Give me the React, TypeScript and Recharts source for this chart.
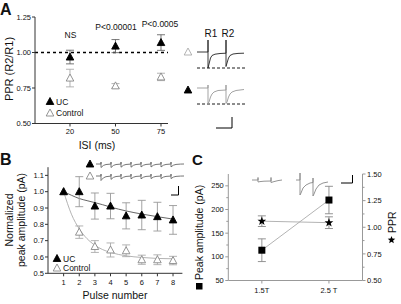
import React from "react";
import {
  ComposedChart,
  LineChart,
  Line,
  Scatter,
  XAxis,
  YAxis,
  ErrorBar,
  ReferenceLine,
} from "recharts";

const FONT = '"Liberation Sans", Arial, Helvetica, sans-serif';
const INK = "#111";
const AXIS = "#333";
const AXIS_C = "#999";
const TICK = { fontSize: 7.5, fill: INK, fontFamily: FONT };

// ---- Panel A: paired-pulse ratio vs inter-stimulus interval
const ISI_LABELS = ["20", "50", "75"];
const A_UC = [0.968, 1.045, 1.07];
const A_UC_ERR = [0.048, 0.046, 0.055];
const A_CTL = [0.82, 0.765, 0.828];
const A_CTL_ERR = [0.062, 0.016, 0.026];
const A_Y_TICKS = [0.5, 0.75, 1.0, 1.25];
const A_SIG = ["NS", "P<0.00001", "P<0.0005"];

// example sweeps (ms, arbitrary pA units); control on top, UC below
const A_TRACE_CTL: [number, number][] = [
  [0, 0], [11, 0], [11, 12], [11, -16], [12, -12], [13.5, -6], [15, -3.5], [18, -2.2], [23, -1.5],
  [29, -1.2], [29, 12], [29, -14.5], [30, -11], [31.5, -6], [33, -3.5], [36, -2], [41, -1.4], [47, -1.2],
];
const A_TRACE_UC: [number, number][] = [
  [0, 0], [11, 0], [11, 3], [11, -15.5], [12, -14], [13.5, -9], [15, -6], [17, -4], [21, -2.5],
  [29, -2], [29, 3], [29, -15.5], [30, -14], [31.5, -9], [33, -6], [35, -4], [39, -2.5], [47, -1.5],
];

// ---- Panel B: normalized amplitude in a train
const PULSES = [1, 2, 3, 4, 5, 6, 7, 8];
const B_UC = [1.0, 1.0, 0.912, 0.912, 0.852, 0.857, 0.847, 0.827];
const B_UC_ERR = [0, 0.092, 0.08, 0.078, 0.08, 0.09, 0.088, 0.088];
const B_CTL = [1.0, 0.752, 0.664, 0.643, 0.638, 0.583, 0.583, 0.578];
const B_CTL_ERR = [0, 0.038, 0.036, 0.043, 0.036, 0.028, 0.03, 0.026];
const B_FIT_X = [1, 1.5, 2, 2.5, 3, 3.5, 4, 5, 6, 7, 8];
const B_FIT_UC = [1.0, 0.978, 0.958, 0.945, 0.933, 0.92, 0.906, 0.882, 0.863, 0.847, 0.832];
const B_FIT_CTL = [1.0, 0.862, 0.772, 0.712, 0.672, 0.645, 0.628, 0.607, 0.597, 0.591, 0.589];
const B_Y_TICKS = [0.5, 0.6, 0.7, 0.8, 0.9, 1.0, 1.1];
const B_TRAIN_T = [5, 15, 25, 35, 45, 55, 65, 75];
const EPSC_DT = [0, 1, 2.5, 5, 9.5];
const EPSC_REL = [-1, -0.75, -0.4, -0.15, -0.03];

// ---- Panel C: amplitude and PPR vs stimulus strength
const STIM = ["1.5T", "2.5 T"];
const C_AMP = [114, 220];
const C_AMP_ERR = [24, 29];
const C_PPR = [1.057, 1.043];
const C_PPR_ERR = [0.05, 0.055];
const C_LEFT_TICKS = [50, 100, 150, 200, 250];
const C_LEFT_MINOR = [75, 125, 175, 225];
const C_RIGHT_TICKS = [0.5, 0.75, 1.0, 1.25, 1.5];
const C_RIGHT_MINOR = [0.625, 0.875, 1.125, 1.375];
const C_TRACE_LOW: [number, number][] = [
  [0, 0], [6, 0], [6, 2.5], [6, -2], [8, -1.6], [12, -1.2], [19, -1], [19, 2.5], [19, -2.5],
  [22, -1.6], [26, -0.6], [30, 0],
];
const C_TRACE_HIGH: [number, number][] = [
  [44, 0], [48, 0], [48, 7], [48, -15], [49, -13], [51, -8], [54, -5], [58, -3], [61, -2.5],
  [61, 2], [61, -16], [62, -14], [64, -9], [67, -5], [71, -3], [76, -2],
];

const pts = (ys: number[], errs: number[], xs?: number[]) =>
  ys.map((y, i) => ({ x: xs ? xs[i] : i + 1, y, err: errs[i] ?? 0 }));
const pairs = (arr: [number, number][]) => arr.map(([t, y]) => ({ t, y }));

function train(amps: number[], depth: number, art: number) {
  const out = [{ t: 0, y: 0 }];
  B_TRAIN_T.forEach((t0, i) => {
    out.push({ t: t0, y: 0 }, { t: t0, y: art });
    EPSC_DT.forEach((dt, k) => out.push({ t: t0 + dt, y: EPSC_REL[k] * depth * amps[i] }));
  });
  out.push({ t: 88, y: 0 });
  return out;
}

function Tri({ cx, cy, filled, stroke = "#888" }: any) {
  return (
    <path
      d={`M${cx} ${cy - 4} L${cx + 3.8} ${cy + 3} L${cx - 3.8} ${cy + 3} Z`}
      fill={filled ? "#000" : "#fff"}
      stroke={filled ? "#000" : stroke}
      strokeWidth={0.9}
    />
  );
}

function starPath(cx: number, cy: number, R = 4.6, r = 1.9) {
  let d = "";
  for (let k = 0; k < 10; k++) {
    const rad = k % 2 === 0 ? R : r;
    const a = -Math.PI / 2 + (k * Math.PI) / 5;
    d += (k ? "L" : "M") + (cx + rad * Math.cos(a)).toFixed(2) + " " + (cy + rad * Math.sin(a)).toFixed(2);
  }
  return d + "Z";
}

// y tick with a short minor mark where no label is wanted
function CTick({ x, y, payload, side, majors, fmt }: any) {
  const v = payload.value;
  const major = majors.includes(v);
  const dir = side === "left" ? -1 : 1;
  const len = major ? 3 : 2;
  return (
    <g>
      <line x1={x} x2={x + dir * len} y1={y} y2={y} stroke={AXIS_C} />
      {major && (
        <text
          x={x + dir * (len + 1.5)}
          y={y}
          dy="0.35em"
          textAnchor={side === "left" ? "end" : "start"}
          fontSize={7.5}
          fill={INK}
          fontFamily={FONT}
        >
          {fmt(v)}
        </text>
      )}
    </g>
  );
}

function Trace({ left, top, width, height, domain, series, dashAt }: any) {
  return (
    <div style={{ position: "absolute", left, top }}>
      <LineChart width={width} height={height} margin={{ top: 0, right: 0, bottom: 0, left: 0 }}>
        <XAxis type="number" dataKey="t" domain={[0, width]} hide allowDataOverflow />
        <YAxis type="number" domain={domain} hide allowDataOverflow />
        {dashAt !== undefined && (
          <ReferenceLine y={dashAt} stroke="#000" strokeDasharray="3 2" strokeWidth={0.9} />
        )}
        {series.map((s: any, i: number) => (
          <Line
            key={i}
            data={s.data}
            type="linear"
            dataKey="y"
            stroke={s.stroke}
            strokeWidth={0.9}
            dot={false}
            isAnimationActive={false}
          />
        ))}
      </LineChart>
    </div>
  );
}

function PanelA() {
  return (
    <div style={{ position: "absolute", left: 0, top: 0 }}>
      <ComposedChart width={175} height={150} margin={{ top: 17, right: 7, bottom: 0, left: 0 }}>
        <XAxis
          type="number"
          dataKey="x"
          domain={[0.231, 3.154]}
          ticks={[1, 2, 3]}
          interval={0}
          tickFormatter={(v) => ISI_LABELS[v - 1]}
          height={26.5}
          tickSize={3}
          tickMargin={2}
          stroke={AXIS}
          tick={TICK}
          allowDataOverflow
        />
        <YAxis
          type="number"
          dataKey="y"
          domain={[0.5, 1.25]}
          ticks={A_Y_TICKS}
          interval={0}
          tickFormatter={(v) => v.toFixed(2)}
          width={35}
          tickSize={3}
          tickMargin={1}
          stroke={AXIS}
          tick={TICK}
          allowDataOverflow
        />
        <ReferenceLine y={1} stroke="#000" strokeDasharray="3 3" strokeWidth={1.3} />
        <Scatter data={pts(A_CTL, A_CTL_ERR)} dataKey="y" isAnimationActive={false} shape={(p: any) => <Tri cx={p.cx} cy={p.cy} />}>
          <ErrorBar dataKey="err" direction="y" width={4} stroke="#aaa" strokeWidth={0.9} isAnimationActive={false} />
        </Scatter>
        <Scatter data={pts(A_UC, A_UC_ERR)} dataKey="y" isAnimationActive={false} shape={(p: any) => <Tri cx={p.cx} cy={p.cy} filled />}>
          <ErrorBar dataKey="err" direction="y" width={4} stroke="#666" strokeWidth={0.9} isAnimationActive={false} />
        </Scatter>
      </ComposedChart>
    </div>
  );
}

function PanelB() {
  return (
    <div style={{ position: "absolute", left: 0, top: 160 }}>
      <ComposedChart width={190} height={144} margin={{ top: 7.2, right: 7.6, bottom: 0, left: 0 }}>
        <XAxis
          type="number"
          dataKey="x"
          domain={[0, 8.6]}
          ticks={PULSES}
          interval={0}
          height={30.7}
          tickSize={3}
          tickMargin={3}
          stroke={AXIS}
          tick={TICK}
          allowDataOverflow
        />
        <YAxis
          type="number"
          dataKey="y"
          domain={[0.5, 1.15]}
          ticks={B_Y_TICKS}
          interval={0}
          tickFormatter={(v) => v.toFixed(1)}
          width={48}
          tickSize={3}
          tickMargin={1}
          stroke={AXIS}
          tick={TICK}
          allowDataOverflow
        />
        <Line data={pts(B_FIT_CTL, [], B_FIT_X)} type="monotone" dataKey="y" stroke="#aaa" strokeWidth={0.9} dot={false} isAnimationActive={false} />
        <Line data={pts(B_FIT_UC, [], B_FIT_X)} type="monotone" dataKey="y" stroke="#555" strokeWidth={0.9} dot={false} isAnimationActive={false} />
        <Scatter data={pts(B_CTL, B_CTL_ERR)} dataKey="y" isAnimationActive={false} shape={(p: any) => <Tri cx={p.cx} cy={p.cy} />}>
          <ErrorBar dataKey="err" direction="y" width={4} stroke="#aaa" strokeWidth={0.9} isAnimationActive={false} />
        </Scatter>
        <Scatter data={pts(B_UC, B_UC_ERR)} dataKey="y" isAnimationActive={false} shape={(p: any) => <Tri cx={p.cx} cy={p.cy} filled />}>
          <ErrorBar dataKey="err" direction="y" width={4} stroke="#999" strokeWidth={0.9} isAnimationActive={false} />
        </Scatter>
      </ComposedChart>
    </div>
  );
}

function PanelC() {
  const square = (p: any) => (
    <rect key={`s${p.index}`} x={p.cx - 3.5} y={p.cy - 3.5} width={7} height={7} fill="#000" />
  );
  const star = (p: any) => <path key={`t${p.index}`} d={starPath(p.cx, p.cy)} fill="#000" />;
  return (
    <div style={{ position: "absolute", left: 200, top: 160 }}>
      <ComposedChart width={201} height={144} margin={{ top: 14, right: 0, bottom: 0, left: 0 }}>
        <XAxis
          type="number"
          dataKey="x"
          domain={[0.5, 2.5]}
          ticks={[1, 2]}
          interval={0}
          tickFormatter={(v) => STIM[v - 1]}
          height={23.5}
          tickSize={3}
          tickMargin={4}
          stroke={AXIS_C}
          tick={TICK}
          allowDataOverflow
        />
        <YAxis
          yAxisId="left"
          type="number"
          dataKey="y"
          domain={[50, 275]}
          ticks={[...C_LEFT_TICKS, ...C_LEFT_MINOR].sort((a, b) => a - b)}
          interval={0}
          width={28.3}
          tickSize={0}
          tickMargin={0}
          tickLine={false}
          stroke={AXIS_C}
          tick={(p: any) => <CTick {...p} side="left" majors={C_LEFT_TICKS} fmt={(v: number) => String(v)} />}
          allowDataOverflow
        />
        <YAxis
          yAxisId="right"
          orientation="right"
          type="number"
          dataKey="y"
          domain={[0.5, 1.5]}
          ticks={[...C_RIGHT_TICKS, ...C_RIGHT_MINOR].sort((a, b) => a - b)}
          interval={0}
          width={38.5}
          tickSize={0}
          tickMargin={0}
          tickLine={false}
          stroke={AXIS_C}
          tick={(p: any) => <CTick {...p} side="right" majors={C_RIGHT_TICKS} fmt={(v: number) => v.toFixed(2)} />}
          allowDataOverflow
        />
        <Line yAxisId="left" data={pts(C_AMP, C_AMP_ERR)} type="linear" dataKey="y" stroke="#aaa" strokeWidth={0.9} dot={square} isAnimationActive={false}>
          <ErrorBar dataKey="err" direction="y" width={4} stroke="#888" strokeWidth={0.9} isAnimationActive={false} />
        </Line>
        <Line yAxisId="right" data={pts(C_PPR, C_PPR_ERR)} type="linear" dataKey="y" stroke="#aaa" strokeWidth={0.9} dot={star} isAnimationActive={false}>
          <ErrorBar dataKey="err" direction="y" width={4} stroke="#888" strokeWidth={0.9} isAnimationActive={false} />
        </Line>
      </ComposedChart>
    </div>
  );
}

export default function App() {
  const txt = { fontFamily: FONT, fill: INK } as const;
  return (
    <div
      style={{
        position: "absolute",
        left: 0,
        top: 0,
        width: 401,
        height: 304,
        background: "#fff",
        fontFamily: FONT,
        overflow: "hidden",
      }}
    >
      <PanelA />
      <PanelB />
      <PanelC />

      <Trace left={197} top={36} width={48} height={36} domain={[-20, 16]} dashAt={-16}
        series={[{ data: pairs(A_TRACE_CTL), stroke: "#222" }]} />
      <Trace left={197} top={72} width={48} height={36} domain={[-20, 16]} dashAt={-16}
        series={[{ data: pairs(A_TRACE_UC), stroke: "#999" }]} />
      <Trace left={96} top={158} width={89} height={12} domain={[-6, 6]}
        series={[{ data: train(B_UC, 3.5, 2), stroke: "#666" }]} />
      <Trace left={96} top={170} width={89} height={12} domain={[-6, 6]}
        series={[{ data: train(B_CTL, 4.5, 2), stroke: "#666" }]} />
      <Trace left={252} top={172} width={76} height={26} domain={[-18, 8]}
        series={[
          { data: pairs(C_TRACE_LOW), stroke: "#888" },
          { data: pairs(C_TRACE_HIGH), stroke: "#888" },
        ]} />

      <svg width={401} height={304} style={{ position: "absolute", left: 0, top: 0, pointerEvents: "none" }}>
        {/* panel A */}
        <text x={0} y={15} fontSize={16} fontWeight="bold" {...txt}>A</text>
        <text transform="rotate(-90 13 69)" x={13} y={69} textAnchor="middle" fontSize={11} {...txt}>PPR (R2/R1)</text>
        <text x={97} y={149} textAnchor="middle" fontSize={10.5} {...txt}>ISI (ms)</text>
        <text x={70.5} y={38} textAnchor="middle" fontSize={8.5} {...txt}>{A_SIG[0]}</text>
        <text x={116} y={30} textAnchor="middle" fontSize={8.5} {...txt}>{A_SIG[1]}</text>
        <text x={160} y={26.5} textAnchor="middle" fontSize={8.5} {...txt}>{A_SIG[2]}</text>
        <Tri cx={50} cy={101.5} filled />
        <text x={56} y={104.5} fontSize={8.5} {...txt}>UC</text>
        <Tri cx={50} cy={113} />
        <text x={56} y={116} fontSize={8.5} {...txt}>Control</text>
        <Tri cx={188} cy={52} stroke="#aaa" />
        <Tri cx={188} cy={90} filled />
        <text x={211} y={37} textAnchor="middle" fontSize={10} {...txt}>R1</text>
        <text x={228} y={37} textAnchor="middle" fontSize={10} {...txt}>R2</text>
        <path d="M216 128 H232 V117" fill="none" stroke="#000" strokeWidth={1} />

        {/* panel B */}
        <text x={0} y={165} fontSize={16} fontWeight="bold" {...txt}>B</text>
        <text transform="rotate(-90 13 220)" x={13} y={220} textAnchor="middle" fontSize={10.5} {...txt}>Normalized</text>
        <text transform="rotate(-90 25 220)" x={25} y={220} textAnchor="middle" fontSize={10.5} {...txt}>peak amplitude (pA)</text>
        <text x={115} y={299} textAnchor="middle" fontSize={10.5} {...txt}>Pulse number</text>
        <Tri cx={57} cy={258.5} filled />
        <text x={63} y={261.5} fontSize={8.5} {...txt}>UC</text>
        <Tri cx={57} cy={268} />
        <text x={63} y={271} fontSize={8.5} {...txt}>Control</text>
        <Tri cx={90} cy={164} filled />
        <Tri cx={90} cy={176} />
        <path d="M171 195 H178.5 V186" fill="none" stroke="#000" strokeWidth={1} />

        {/* panel C */}
        <text x={192} y={165} fontSize={15} fontWeight="bold" {...txt}>C</text>
        <rect x={196} y={283} width={6.5} height={6.5} fill="#000" />
        <text transform="rotate(-90 203 280)" x={203} y={280} textAnchor="start" fontSize={10.5} {...txt}>Peak amplitude (pA)</text>
        <path d={starPath(391.5, 240, 4, 1.7)} fill="#000" />
        <text transform="rotate(-90 396 233)" x={396} y={233} textAnchor="start" fontSize={10.5} {...txt}>PPR</text>
        <path d="M341 183 H352.5 V175" fill="none" stroke="#000" strokeWidth={1} />
      </svg>
    </div>
  );
}
